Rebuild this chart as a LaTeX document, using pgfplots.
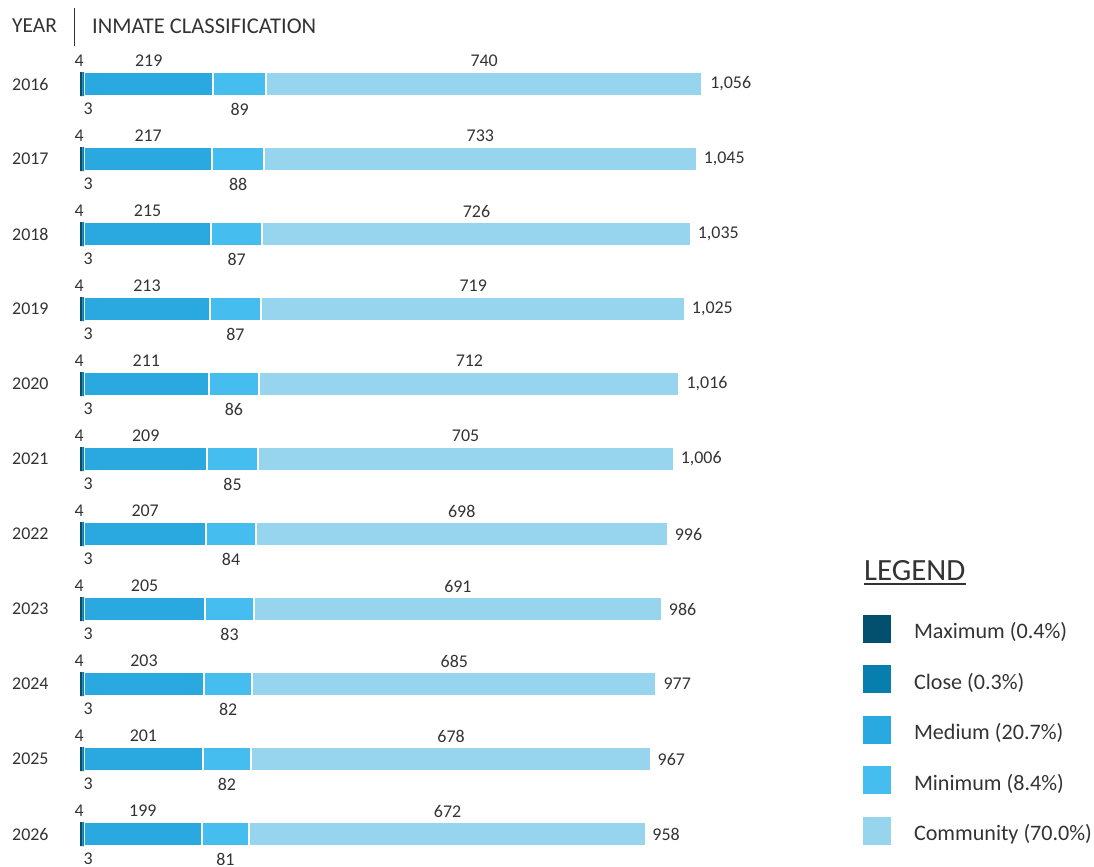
\documentclass[border=0pt]{standalone}
\usepackage{fontspec}
\setmainfont{Carlito}
\usepackage{pgfplots}
\pgfplotsset{compat=1.18}
\usepackage{pgfplotstable}

\definecolor{cMax}{HTML}{02506E}
\definecolor{cClose}{HTML}{087EAF}
\definecolor{cMed}{HTML}{29A9E0}
\definecolor{cMin}{HTML}{45BDEE}
\definecolor{cComm}{HTML}{97D5EE}
\definecolor{txt}{HTML}{333333}

% inmate counts by classification, per year
\pgfplotstableread{
year max close med min comm total
2016 4 3 219 89 740 1056
2017 4 3 217 88 733 1045
2018 4 3 215 87 726 1035
2019 4 3 213 87 719 1025
2020 4 3 211 86 712 1016
2021 4 3 209 85 705 1006
2022 4 3 207 84 698 996
2023 4 3 205 83 691 986
2024 4 3 203 82 685 977
2025 4 3 201 82 678 967
2026 4 3 199 81 672 958
}\inmates

\newcommand{\numfont}{\fontsize{18}{21}\selectfont}

\pgfplotsset{
  inmbase/.style={
    scale only axis, width=590bp, height=825bp,
    at={(80bp,-46.5bp)}, anchor=north west,
    xmin=0, xmax=1000, ymin=2015.5, ymax=2026.5, y dir=reverse,
    hide axis, clip=false,
  },
  lbl/.style={draw=none, nodes near coords, point meta=explicit,
    every node near coord/.append style={font=\numfont, text=txt, inner sep=0pt, anchor=center}},
}

\begin{document}
\begin{tikzpicture}[x=1bp,y=1bp]
\path[use as bounding box] (0,-867) rectangle (1094,0);

% header
\node[anchor=west, inner sep=0, text=txt, font=\fontsize{21.5}{24}\selectfont] at (12,-26) {YEAR};
\draw[line width=1bp, txt] (74,-8) -- (74,-46);
\node[anchor=west, inner sep=0, text=txt, font=\fontsize{22.6}{24}\selectfont] at (92,-26) {INMATE CLASSIFICATION};

% legend title
\node (lg) [anchor=base west, inner sep=0, text=txt, font=\fontsize{31}{34}\selectfont] at (864,-580) {LEGEND};
\draw[line width=1.5bp, txt] (864,-584) -- (lg.east |- 0,-584);

\begin{axis}[inmbase,
    xbar stacked, bar width=24bp,
    legend style={at={(axis description cs:1.3271,0.3109)}, anchor=north west,
      draw=none, fill=none, inner sep=0pt, outer sep=0pt,
      nodes={inner sep=0pt, text=txt}, font=\fontsize{22.2}{24}\selectfont,
      row sep=16.1bp, /tikz/every odd column/.append style={column sep=23bp}},
    legend cell align=left,
    legend image code/.code={\fill[#1, draw=none] (0bp,-7bp) rectangle (28bp,21bp);},
  ]
  \addplot[fill=cMax, draw=none] table[x=max, y=year]{\inmates};
  \addlegendentry{\raisebox{9bp}{Maximum (0.4\%)}}
  \addplot[fill=cClose, draw=none] table[x=close, y=year]{\inmates};
  \addlegendentry{\raisebox{9bp}{Close (0.3\%)}}
  \addplot[fill=cMed, draw=white, line width=2bp] table[x=med, y=year]{\inmates};
  \addlegendentry{\raisebox{9bp}{Medium (20.7\%)}}
  \addplot[fill=cMin, draw=white, line width=2bp] table[x=min, y=year]{\inmates};
  \addlegendentry{\raisebox{9bp}{Minimum (8.4\%)}}
  \addplot[fill=cComm, draw=white, line width=2bp] table[x=comm, y=year]{\inmates};
  \addlegendentry{\raisebox{9bp}{Community (70.0\%)}}
\end{axis}

\begin{axis}[inmbase,
    /pgf/number format/assume math mode=true,
    /pgf/number format/1000 sep={,},
  ]
  % years
  \addplot[draw=none, nodes near coords={\pgfplotspointmeta}, point meta=explicit symbolic,
    every node near coord/.append style={font=\numfont, text=txt, inner sep=0pt, anchor=west, xshift=-68bp}]
    table[x expr=0, y=year, meta=year]{\inmates};
  % maximum, above
  \addplot[lbl, every node near coord/.append style={yshift=23bp, xshift=-2bp}]
    table[x expr=\thisrow{max}/2, y=year, meta=max]{\inmates};
  % close, below
  \addplot[lbl, every node near coord/.append style={yshift=-25bp, xshift=5bp}]
    table[x expr=\thisrow{max}+\thisrow{close}/2, y=year, meta=close]{\inmates};
  % medium, above
  \addplot[lbl, every node near coord/.append style={yshift=23bp}]
    table[x expr=\thisrow{max}+\thisrow{close}+\thisrow{med}/2, y=year, meta=med]{\inmates};
  % minimum, below
  \addplot[lbl, every node near coord/.append style={yshift=-25bp}]
    table[x expr=\thisrow{max}+\thisrow{close}+\thisrow{med}+\thisrow{min}/2, y=year, meta=min]{\inmates};
  % community, above
  \addplot[lbl, every node near coord/.append style={yshift=23bp}]
    table[x expr=\thisrow{max}+\thisrow{close}+\thisrow{med}+\thisrow{min}+\thisrow{comm}/2, y=year, meta=comm]{\inmates};
  % totals, right of bar
  \addplot[lbl, every node near coord/.append style={anchor=west, xshift=7bp}]
    table[x=total, y=year, meta=total]{\inmates};
\end{axis}
\end{tikzpicture}
\end{document}
